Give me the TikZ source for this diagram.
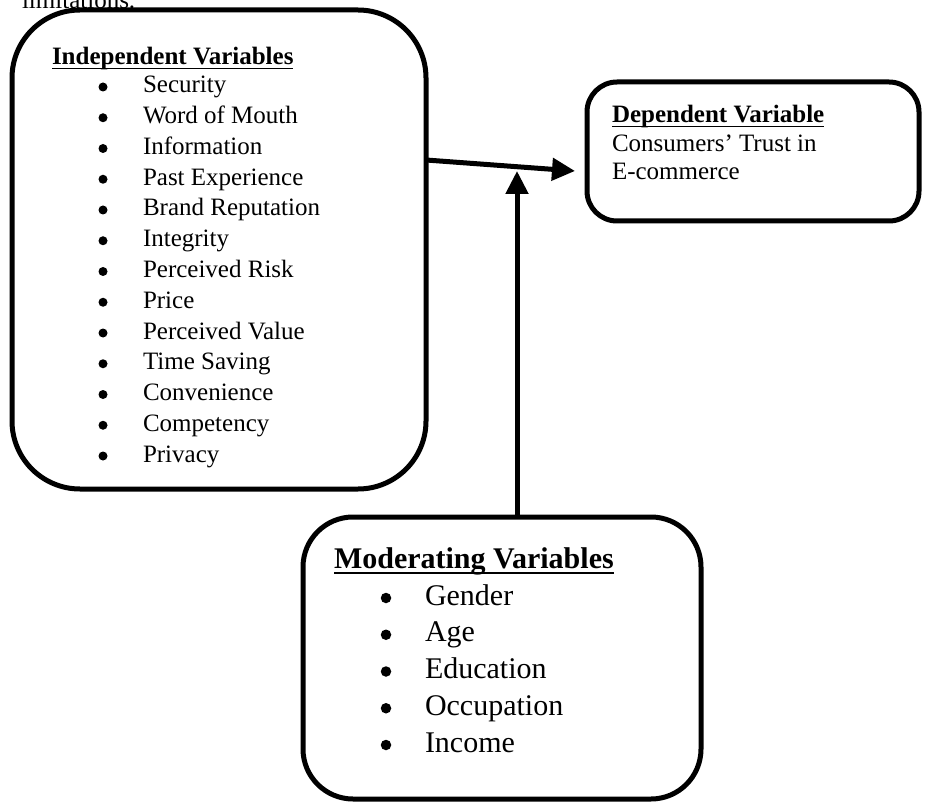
\documentclass[tikz,border=0pt]{standalone}
\usepackage{fontspec}
\setmainfont{Liberation Serif}
\usetikzlibrary{arrows.meta}
\begin{document}
\begin{tikzpicture}[x=1pt,y=-1pt,
  box/.style={draw,line width=5pt,inner sep=0pt,outer sep=0pt},
  txt/.style={inner sep=0pt,outer sep=0pt,anchor=base west,font=\fontsize{25}{30}\selectfont},
  bigtxt/.style={inner sep=0pt,outer sep=0pt,anchor=base west,font=\fontsize{30}{36}\selectfont},
  bul/.style={circle,fill,inner sep=0pt,outer sep=0pt,minimum size=9pt},
  bigbul/.style={circle,fill,inner sep=0pt,outer sep=0pt,minimum size=10.5pt},
  uline/.style={line width=1.6pt},
  arr/.style={line width=5pt,-{Triangle[length=23pt,width=22pt]}}]
\useasboundingbox (0,0) rectangle (926,802);
% text cut off at the top
\node[txt] (lim) at (22,9) {limitations.};
% boxes
\node[box,rounded corners=68pt,minimum width=414pt,minimum height=479pt] (indep) at (219,249.5) {};
\node[box,rounded corners=30pt,minimum width=332pt,minimum height=139pt] (dep) at (753,151.5) {};
\node[box,rounded corners=50pt,minimum width=398pt,minimum height=282pt] (mod) at (502,658) {};
% independent variables
\node[txt,font=\fontsize{25}{30}\selectfont\bfseries] (ih) at (52,65) {Independent Variables};
\draw[uline] ([yshift=-3.5pt]ih.base west) -- ([yshift=-3.5pt]ih.base east);
\foreach \t [count=\i from 0] in {Security,Word of Mouth,Information,Past Experience,Brand Reputation,Integrity,Perceived Risk,Price,Perceived Value,Time Saving,Convenience,Competency,Privacy}{
  \node[bul] (ib\i) at (103,87+\i*30.75) {};
  \node[txt] (it\i) at (143,93+\i*30.75) {\t};
}
% dependent variable
\node[txt,font=\fontsize{25}{30}\selectfont\bfseries] (dh) at (612,123) {Dependent Variable};
\draw[uline] ([yshift=-3.5pt]dh.base west) -- ([yshift=-3.5pt]dh.base east);
\node[txt] (d1) at (612,152) {Consumers’ Trust in};
\node[txt] (d2) at (612,180) {E-commerce};
% moderating variables
\node[bigtxt,font=\fontsize{30}{36}\selectfont\bfseries] (mh) at (334,568) {Moderating Variables};
\draw[line width=2pt] ([yshift=-4.5pt]mh.base west) -- ([yshift=-4.5pt]mh.base east);
\foreach \t [count=\i from 0] in {Gender,Age,Education,Occupation,Income}{
  \node[bigbul] (mb\i) at (386,598+\i*36.75) {};
  \node[bigtxt] (mt\i) at (425,605+\i*36.75) {\t};
}
% connectors
\coordinate (htip) at (575,171);
\coordinate (vtip) at (517,171);
\draw[arr] (indep.east |- 0,160) -- (htip);
\draw[arr] (mod.north -| vtip) -- (vtip);
\end{tikzpicture}
\end{document}
